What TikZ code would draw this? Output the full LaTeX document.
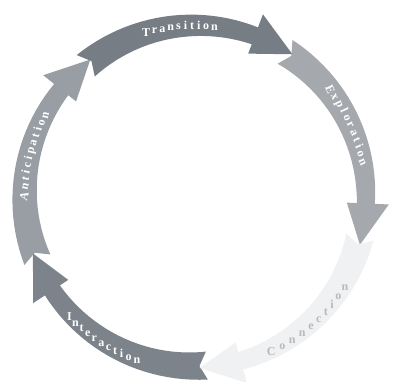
\documentclass[tikz,border=0pt]{standalone}
\usepackage{fontspec}
\setmainfont{Liberation Serif}
\usepackage{tikz}
\usetikzlibrary{decorations.text}

\definecolor{explo}{RGB}{165,169,174}
\definecolor{trans}{RGB}{118,125,133}
\definecolor{antic}{RGB}{152,158,164}
\definecolor{inter}{RGB}{124,131,138}
\definecolor{conn}{RGB}{240,241,243}
\newcommand\ringfont{\bfseries\fontsize{12}{12}\selectfont}

\begin{document}
\begin{tikzpicture}[x=1pt, y=1pt,
  ringtext/.style 2 args = {decorate, decoration={text effects along path,
      text={#1}, text effects/.cd, fit text to path,
      characters={text=#2, font=\ringfont, anchor=base}}},
]
\useasboundingbox (-195,-185) rectangle (198,196);

% five arrows round the ring, clockwise, each with a notched tail
\foreach \ang/\col in {58/explo, 130/trans, 202/antic, -86/inter, -14/conn} {
  \pgfmathsetmacro\tp{\ang-74.5}
  \pgfmathsetmacro\hd{\tp+14}
  \fill[\col] (\ang:184)
    -- plot[domain=\ang:\hd, samples=25] (\x:{184-4*(\ang-\x)/(\ang-\hd)})
    -- (\hd:194) -- (\tp:172) -- (\hd:152)
    -- plot[domain=\hd:\ang, samples=25] (\x:{162-6*(\x-\hd)/(\ang-\hd)})
    -- ({\ang-2.5}:170) -- cycle;
}

% labels
\path[ringtext={Transition}{white}]    (109.5:167) arc[start angle=109.5, end angle=81, radius=167];
\path[ringtext={Connection}{gray!55}]  (-67:177) arc[start angle=-67, end angle=-30, radius=177];
\path[ringtext={Interaction}{white}]   (-137:177) arc[start angle=-137, end angle=-107, radius=177];
% side labels turned on the canvas, so the text runs over the top of the ring
\begin{scope}[transform canvas={rotate=-65}]
  \path[ringtext={Exploration}{white}] (106:168) arc[start angle=106, end angle=74, radius=168];
\end{scope}
\begin{scope}[transform canvas={rotate=76}]
  \path[ringtext={Anticipation}{white}] (107:167) arc[start angle=107, end angle=73, radius=167];
\end{scope}

\end{tikzpicture}
\end{document}
